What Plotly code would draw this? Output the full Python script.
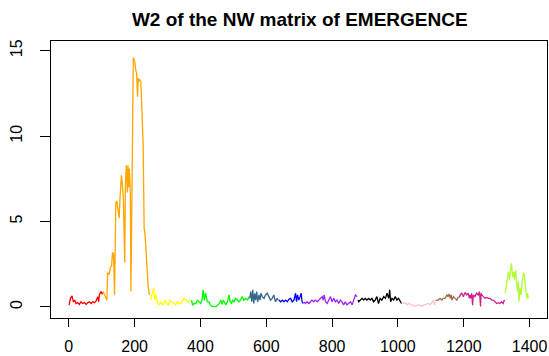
import plotly.graph_objects as go

# segment data (x index, W2 value), one list per colour group
red_x = [1, 5, 10, 14, 18, 22, 27, 32, 37, 42, 47, 53, 58, 63, 68, 73, 78, 83, 88, 91, 93, 98, 101, 103]
red_y = [0.1, 0.5, 0.65, 0.3, 0.4, 0.2, 0.25, 0.15, 0.3, 0.2, 0.25, 0.15, 0.25, 0.3, 0.2, 0.3, 0.25, 0.35, 0.6, 0.3, 0.7, 0.9, 0.75, 0.85]

orange_x = [104, 108, 113, 116, 118, 123, 126, 130, 133, 136, 139, 141, 143, 146, 150, 153, 156, 160, 163, 166, 170, 172,
            175, 178, 180, 182, 184, 187, 189, 191, 193, 196, 198, 201, 204, 206, 209, 211, 213, 216, 219, 223, 226, 229,
            231, 234, 238, 241, 245]
orange_y = [0.9, 0.75, 0.5, 0.4, 2.0, 1.9, 2.3, 2.4, 3.2, 3.1, 0.7, 2.8, 6.1, 6.2, 5.4, 5.2, 6.5, 7.7, 7.1, 6.3, 2.6, 7.1,
            8.3, 6.7, 8.3, 7.0, 8.1, 6.7, 0.9, 6.7, 11.8, 14.6, 14.5, 14.3, 13.8, 13.7, 12.3, 13.4, 13.2, 13.3, 13.2, 11.2, 9.5, 4.6,
            4.4, 3.6, 2.4, 1.2, 0.7]

yellow_x = [248, 253, 258, 261, 265, 270, 275, 280, 285, 293, 297, 303, 307, 313, 320, 325, 330, 335, 340, 346, 351, 356, 361, 366, 370]
yellow_y = [0.4, 0.7, 1.1, 0.4, 0.7, 0.2, 0.12, 0.3, 0.08, 0.4, 0.2, 0.12, 0.4, 0.3, 0.2, 0.12, 0.3, 0.2, 0.2, 0.4, 0.5, 0.4, 0.3, 0.35, 0.4]

green_x = [373, 376, 381, 386, 391, 396, 401, 405, 408, 412, 416, 421, 426, 431, 437, 447, 452, 457, 462, 465, 469, 472, 477,
           482, 487, 490, 495, 497, 502, 507, 512, 517, 522, 527, 532, 537, 543, 548]
green_y = [0.4, 0.1, 0.2, 0.2, 0.4, 0.3, 0.2, 0.4, 1.0, 0.4, 0.8, 0.3, 0.3, 0.08, 0.02, 0.02, 0.08, 0.2, 0.4, 0.15, 0.4, 0.3, 0.12,
           0.3, 0.7, 0.3, 0.2, 0.4, 0.3, 0.5, 0.4, 0.3, 0.4, 0.6, 0.4, 0.5, 0.4, 0.6]

steel_x = [550, 553, 556, 559, 562, 565, 568, 571, 574, 578, 581, 584, 588, 593, 598, 603, 608, 613, 618, 623, 628, 633, 636]
steel_y = [0.5, 0.9, 0.3, 1.0, 0.2, 0.8, 0.4, 0.9, 0.3, 0.7, 0.4, 0.8, 0.6, 0.5, 0.7, 0.8, 0.6, 0.4, 0.5, 0.7, 0.3, 0.5, 0.4]

blue_x = [638, 644, 649, 654, 659, 664, 669, 674, 679, 684, 689, 692, 695, 699, 703, 706, 709, 713]
blue_y = [0.4, 0.3, 0.4, 0.3, 0.4, 0.3, 0.45, 0.5, 0.3, 0.4, 0.8, 0.3, 0.7, 0.4, 0.6, 0.8, 0.3, 0.2]

purple_x = [715, 719, 724, 729, 734, 739, 744, 749, 755, 760, 765, 770, 773, 776, 780, 785, 790, 795, 800, 805, 810, 815, 820,
            825, 830, 835, 840, 845, 850, 856, 861, 866, 871, 876]
purple_y = [0.3, 0.2, 0.3, 0.2, 0.3, 0.4, 0.3, 0.4, 0.3, 0.4, 0.5, 0.6, 0.4, 0.7, 0.3, 0.2, 0.4, 0.6, 0.3, 0.5, 0.3, 0.4, 0.2,
            0.4, 0.3, 0.12, 0.3, 0.12, 0.2, 0.3, 0.12, 0.4, 0.7, 0.6]

black_x = [879, 881, 886, 891, 896, 901, 906, 911, 916, 921, 926, 931, 936, 941, 946, 951, 957, 962, 967, 972, 975, 978, 982,
           987, 992, 997, 1002, 1007, 1011]
black_y = [0.4, 0.3, 0.4, 0.5, 0.4, 0.5, 0.4, 0.5, 0.4, 0.5, 0.3, 0.4, 0.6, 0.2, 0.5, 0.4, 0.6, 0.5, 0.8, 0.5, 1.0, 0.3, 0.5,
           0.4, 0.6, 0.4, 0.5, 0.3, 0.2]

pink_x = [1014, 1020, 1024, 1028, 1032, 1037, 1042, 1047, 1053, 1058, 1063, 1068, 1073, 1078, 1083, 1088, 1093, 1098, 1103, 1108, 1111, 1113]
pink_y = [0.25, 0.2, 0.22, 0.12, 0.2, 0.15, 0.12, 0.08, 0.05, 0.1, 0.12, 0.08, 0.03, 0.1, 0.12, 0.15, 0.2, 0.12, 0.3, 0.4, 0.12, 0.3]

brown_x = [1115, 1118, 1123, 1128, 1133, 1138, 1143, 1149, 1152, 1156, 1159, 1162, 1164, 1169, 1174, 1179, 1184]
brown_y = [0.35, 0.4, 0.4, 0.5, 0.4, 0.5, 0.5, 0.7, 0.6, 0.75, 0.5, 0.7, 0.4, 0.6, 0.5, 0.4, 0.6]

magenta_x = [1187, 1189, 1194, 1199, 1204, 1209, 1214, 1217, 1219, 1222, 1224, 1227, 1229, 1234, 1239, 1244, 1248, 1251, 1253,
             1255, 1260, 1265, 1270, 1275, 1280, 1285, 1290, 1295, 1300, 1305, 1310, 1315, 1320, 1323, 1325]
magenta_y = [0.55, 0.7, 0.8, 0.6, 0.85, 0.7, 0.8, 0.5, 0.7, 0.5, 0.8, 0.1, 0.7, 0.6, 0.8, 0.7, 0.9, 0.03, 0.8,
             0.7, 0.6, 0.5, 0.55, 0.5, 0.5, 0.4, 0.4, 0.3, 0.2, 0.25, 0.2, 0.3, 0.2, 0.4, 0.35]

gy_x = [1326, 1328, 1330, 1333, 1336, 1339, 1342, 1345, 1349, 1352, 1354, 1356, 1358, 1361, 1364, 1366, 1368, 1371, 1374, 1378,
        1381, 1384, 1386, 1389, 1392, 1394, 1396]
gy_y = [0.8, 1.1, 1.5, 1.67, 2.06, 1.6, 2.0, 2.55, 1.75, 2.05, 1.6, 1.9, 2.15, 1.3, 0.9, 1.5, 0.3, 1.1, 0.7, 1.5,
        2.0, 1.9, 1.3, 0.9, 0.5, 0.8, 0.5]

segments = [
    (red_x, red_y, "#FF0000"),
    (orange_x, orange_y, "#FFA500"),
    (yellow_x, yellow_y, "#FFFF00"),
    (green_x, green_y, "#00FF00"),
    (steel_x, steel_y, "#36648B"),
    (blue_x, blue_y, "#0000FF"),
    (purple_x, purple_y, "#A020F0"),
    (black_x, black_y, "#000000"),
    (pink_x, pink_y, "#FFC0CB"),
    (brown_x, brown_y, "#A0664A"),
    (magenta_x, magenta_y, "#D02090"),
    (gy_x, gy_y, "#ADFF2F"),
]

x_ticks = [0, 200, 400, 600, 800, 1000, 1200, 1400]
y_ticks = [0, 5, 10, 15]

fig = go.Figure()
for xs, ys, col in segments:
    fig.add_trace(go.Scatter(x=xs, y=ys, mode="lines", line=dict(color=col, width=1.3), showlegend=False))

axis_font = dict(family="Liberation Sans, Arial, sans-serif", size=16, color="black")
fig.update_layout(
    width=549, height=356,
    margin=dict(l=51, r=1, t=41, b=36),
    paper_bgcolor="white", plot_bgcolor="white",
    title=dict(text="<b>W2 of the NW matrix of EMERGENCE</b>", x=0.546, xanchor="center", y=0.945, yanchor="middle",
               font=dict(family="Liberation Sans, Arial, sans-serif", size=19, color="black")),
    xaxis=dict(range=[-54, 1453], tickvals=x_ticks, ticks="outside", ticklen=8, tickcolor="black",
               showline=True, linecolor="black", linewidth=1, mirror=True, showgrid=False, zeroline=False,
               tickfont=axis_font, ticklabelstandoff=6),
    yaxis=dict(range=[-0.65, 15.57], tickvals=y_ticks, ticks="outside", ticklen=10, tickcolor="black",
               showline=True, linecolor="black", linewidth=1, mirror=True, showgrid=False, zeroline=False,
               tickfont=axis_font, tickangle=-90, ticklabelstandoff=12),
)
fig.write_html("out.html")
